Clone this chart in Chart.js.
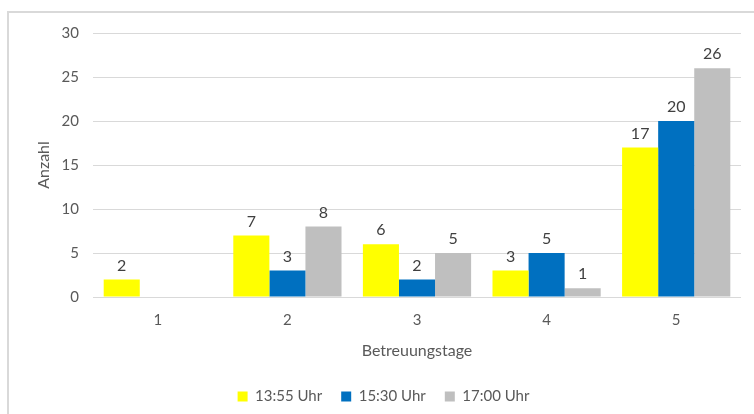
<!DOCTYPE html>
<html>
<head>
<meta charset="utf-8">
<script src="https://cdn.jsdelivr.net/npm/chart.js@4"></script>
<style>
  body { margin: 0; background: #fff; }
  #wrap { position: relative; width: 754px; height: 414px; overflow: hidden; }
  #frame { position: absolute; left: 7px; top: 11px; width: 800px; height: 460px; border: 2px solid #d9d9d9; box-sizing: border-box; }
  canvas { position: absolute; left: 0; top: 0; }
</style>
</head>
<body>
<div id="wrap">
  <div id="frame"></div>
  <canvas id="chart" width="754" height="414"></canvas>
</div>
<script>
// data
const categories = ["1", "2", "3", "4", "5"];
const seriesNames = ["13:55 Uhr", "15:30 Uhr", "17:00 Uhr"];
const early = [2, 7, 6, 3, 17];
const middle = [null, 3, 2, 5, 20];
const late = [null, 8, 5, 1, 26];
const colors = ["#ffff00", "#0070c0", "#bfbfbf"];

const textColor = "#595959";
const fontFamily = "Lato, 'Liberation Sans', sans-serif";

// draw the value above each bar
const valueLabels = {
    id: 'valueLabels',
    afterDatasetsDraw(chart) {
        const ctx = chart.ctx;
        ctx.save();
        ctx.font = "16px " + fontFamily;
        ctx.fillStyle = "#404040";
        ctx.textAlign = "center";
        ctx.textBaseline = "bottom";
        chart.data.datasets.forEach(function (ds, i) {
            chart.getDatasetMeta(i).data.forEach(function (bar, j) {
                if (ds.data[j] == null) return;
                ctx.fillText(ds.data[j], bar.x, bar.y - 6);
            });
        });
        ctx.restore();
    }
};

const ctx = document.getElementById('chart').getContext('2d');
const chart = new Chart(ctx, {
    type: 'bar',
    data: {
        labels: categories,
        datasets: [
            { label: seriesNames[0], data: early, backgroundColor: colors[0] },
            { label: seriesNames[1], data: middle, backgroundColor: colors[1] },
            { label: seriesNames[2], data: late, backgroundColor: colors[2] }
        ]
    },
    options: {
        responsive: false,
        animation: false,
        categoryPercentage: 0.835,
        barPercentage: 1.0,
        layout: { padding: { left: 26, right: 13, top: 33, bottom: 0 } },
        plugins: {
            legend: {
                position: 'bottom',
                labels: {
                    color: textColor,
                    font: { family: fontFamily, size: 15 },
                    boxWidth: 10,
                    boxHeight: 10,
                    padding: 19
                }
            },
            tooltip: { enabled: false }
        },
        scales: {
            x: {
                grid: { display: false },
                border: { display: false },
                ticks: { color: textColor, font: { family: fontFamily, size: 15 }, padding: 6 },
                title: {
                    display: true,
                    text: 'Betreuungstage',
                    color: textColor,
                    font: { family: fontFamily, size: 16 },
                    padding: { top: 8, bottom: 10 }
                },
                afterFit: function (scale) { scale.height = 73; }
            },
            y: {
                min: 0,
                max: 30,
                ticks: { stepSize: 5, color: textColor, font: { family: fontFamily, size: 15 }, padding: 14 },
                grid: { color: "#d9d9d9", drawTicks: false },
                border: { display: false },
                title: {
                    display: true,
                    text: 'Anzahl',
                    color: textColor,
                    font: { family: fontFamily, size: 16 },
                    padding: { top: 8, bottom: 0 }
                },
                afterFit: function (scale) { scale.width = 67; }
            }
        }
    },
    plugins: [valueLabels]
});
</script>
</body>
</html>
